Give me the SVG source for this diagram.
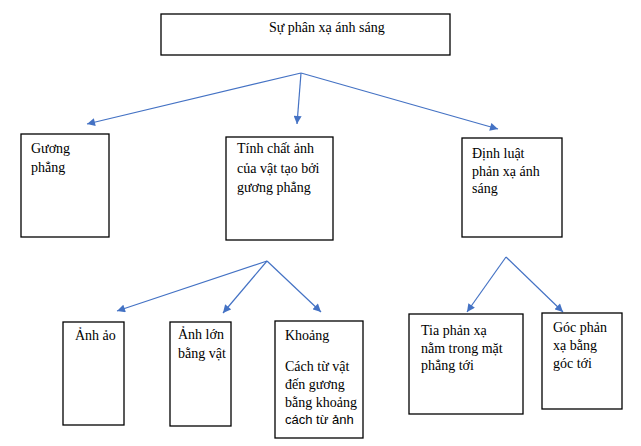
<svg xmlns="http://www.w3.org/2000/svg" width="641" height="446" viewBox="0 0 641 446">
<defs>
<style>
.box{fill:#fff;stroke:#000;stroke-width:1.3}
.t{font-family:"Liberation Serif","Times New Roman",serif;font-size:14px;fill:#000}
.s{font-family:"Liberation Sans",Arial,sans-serif;font-size:13px;fill:#000}
.c{stroke:#4472C4;stroke-width:1.2;fill:none;marker-end:url(#ah)}
</style>
<marker id="ah" viewBox="0 0 10 10" refX="10" refY="5" markerWidth="9" markerHeight="8" markerUnits="userSpaceOnUse" orient="auto">
<path d="M0,0 L10,5 L0,10 z" fill="#4472C4"/>
</marker>
</defs>
<rect width="641" height="446" fill="#fff"/>
<g id="connectors">
<line class="c" x1="301" y1="73" x2="87" y2="124"/>
<line class="c" x1="301" y1="73" x2="297" y2="124"/>
<line class="c" x1="301" y1="73" x2="498" y2="129"/>
<line class="c" x1="267" y1="261" x2="117" y2="311"/>
<line class="c" x1="267" y1="261" x2="223" y2="313"/>
<line class="c" x1="267" y1="261" x2="321" y2="312"/>
<line class="c" x1="506" y1="257" x2="467" y2="312"/>
<line class="c" x1="506" y1="257" x2="563" y2="312"/>
</g>
<g id="root">
<rect class="box" x="161" y="14" width="289" height="41"/>
<text class="t" x="269" y="32">Sự phân xạ ánh sáng</text>
</g>
<g id="guong">
<rect class="box" x="21" y="134" width="88" height="103"/>
<text class="t" x="31" y="153">Gương</text>
<text class="t" x="31" y="172">phẳng</text>
</g>
<g id="tinhchat">
<rect class="box" x="226" y="137" width="107" height="103"/>
<text class="t" x="237" y="153">Tính chất ảnh</text>
<text class="t" x="237" y="173">của vật tạo bởi</text>
<text class="t" x="237" y="192">gương phẳng</text>
</g>
<g id="dinhluat">
<rect class="box" x="462" y="138" width="100" height="99"/>
<text class="t" x="472" y="158">Định luật</text>
<text class="t" x="472" y="176">phản xạ ánh</text>
<text class="t" x="472" y="193">sáng</text>
</g>
<g id="anhao">
<rect class="box" x="63" y="322" width="61" height="103"/>
<text class="t" x="75" y="340">Ảnh ảo</text>
</g>
<g id="anhlon">
<rect class="box" x="170" y="322" width="61" height="104"/>
<text class="t" x="178" y="339">Ảnh lớn</text>
<text class="t" x="178" y="358">bằng vật</text>
</g>
<g id="khoang">
<rect class="box" x="275" y="321" width="88" height="117"/>
<text class="t" x="285" y="340">Khoảng</text>
<text class="t" x="285" y="371">Cách từ vật</text>
<text class="t" x="285" y="389">đến gương</text>
<text class="t" x="285" y="407">bằng khoảng</text>
<text class="s" x="285" y="424">cách từ ảnh</text>
</g>
<g id="tia">
<rect class="box" x="409" y="314" width="114" height="100"/>
<text class="t" x="421" y="335">Tia phản xạ</text>
<text class="t" x="421" y="353">nằm trong mặt</text>
<text class="t" x="421" y="370">phẳng tới</text>
</g>
<g id="goc">
<rect class="box" x="542" y="313" width="80" height="96"/>
<text class="t" x="553" y="332">Góc phản</text>
<text class="t" x="553" y="350">xạ bằng</text>
<text class="t" x="553" y="368">góc tới</text>
</g>
</svg>
